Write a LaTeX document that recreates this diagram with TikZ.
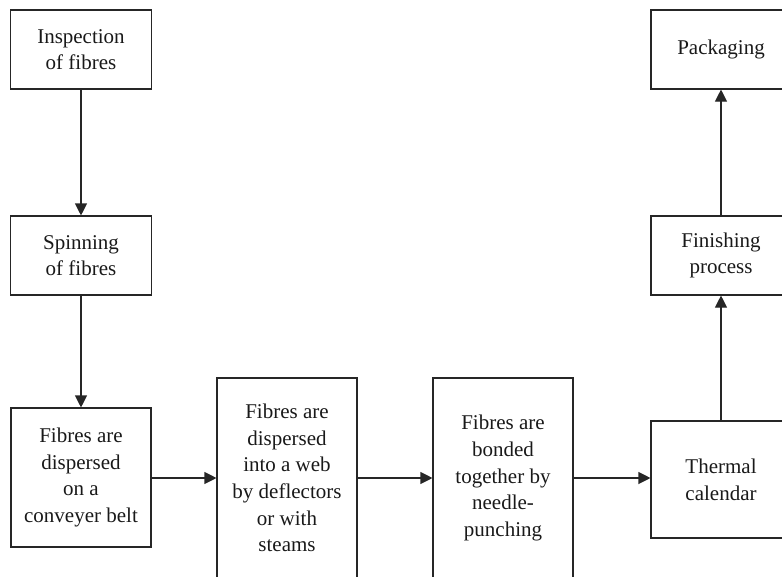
\documentclass[tikz,border=0pt]{standalone}
\usepackage{fontspec}
\setmainfont{Liberation Serif}
\usepackage{tikz}
\usetikzlibrary{arrows.meta}
\begin{document}
\begin{tikzpicture}[x=1pt,y=-1pt,
  box/.style={draw=black!85,line width=1.1pt,align=center,inner sep=0pt,
    font=\fontsize{21}{26.7}\selectfont,text=black!90},
  flow/.style={draw=black!85,line width=1.1pt,-{Triangle[length=12pt,width=12pt]}}]
  \useasboundingbox (0,0) rectangle (782,576);
  % left column
  \node[box,minimum width=141pt,minimum height=79pt] (insp) at (81,49.5) {Inspection\\of fibres};
  \node[box,minimum width=141pt,minimum height=79pt] (spin) at (81,255.5) {Spinning\\of fibres};
  \node[box,minimum width=140pt,minimum height=139pt] (belt) at (81,477.5) {Fibres are\\dispersed\\on a\\conveyer belt};
  % bottom row
  \node[box,minimum width=140pt,minimum height=200pt] (web) at (287,478) {Fibres are\\dispersed\\into a web\\by deflectors\\or with\\steams};
  \node[box,minimum width=140pt,minimum height=200pt] (bond) at (503,478) {Fibres are\\bonded\\together by\\needle-\\punching};
  % right column
  \node[box,minimum width=140pt,minimum height=117pt] (therm) at (721,479.5) {Thermal\\calendar};
  \node[box,minimum width=140pt,minimum height=79pt] (fin) at (721,255.5) {Finishing\\process};
  \node[box,minimum width=140pt,minimum height=79pt] (pack) at (721,49.5) {Packaging};
  % connectors
  \draw[flow] (insp) -- (spin);
  \draw[flow] (spin) -- (belt);
  \draw[flow] (belt.east |- web) -- (web);
  \draw[flow] (web) -- (bond);
  \draw[flow] (bond.east |- web) -- (therm.west |- web);
  \draw[flow] (therm) -- (fin);
  \draw[flow] (fin) -- (pack);
\end{tikzpicture}
\end{document}
